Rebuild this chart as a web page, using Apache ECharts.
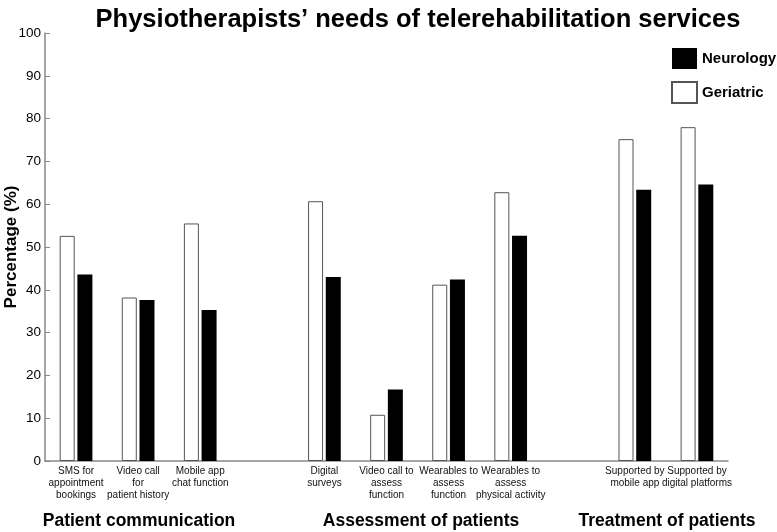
<!DOCTYPE html>
<html>
<head>
<meta charset="utf-8">
<script src="https://cdn.jsdelivr.net/npm/echarts@6/dist/echarts.min.js"></script>
<style>
  html, body { margin: 0; padding: 0; background: #fff; }
  #main { width: 777px; height: 532px; }
</style>
</head>
<body>
<div id="main"></div>
<script>
// categories, blank slots separate the three groups
const categories = [
  'SMS for\nappointment\nbookings', 'Video call\nfor\npatient history', 'Mobile app\nchat function', '',
  'Digital\nsurveys', 'Video call to\nassess\nfunction', 'Wearables to\nassess\nfunction', 'Wearables to\nassess\nphysical activity', '',
  'Supported by\nmobile app', 'Supported by\ndigital platforms'
];
const geriatric = [52.6, 38.2, 55.5, null, 60.7, 10.8, 41.2, 62.8, null, 75.2, 78.0];
const neurology = [43.6, 37.6, 35.3, null, 43.0, 16.7, 42.4, 52.6, null, 63.4, 64.6];
const groupNames = ['Patient communication', 'Assessment of patients', 'Treatment of patients'];
const yTicks = [0, 10, 20, 30, 40, 50, 60, 70, 80, 90, 100];

const chart = echarts.init(document.getElementById('main'), null, { renderer: 'canvas' });

const font = 'Liberation Sans, Arial, sans-serif';

// group captions under the axis (x = centre of each group)
const groupX = [139, 421, 667];
const groupText = groupNames.map((name, i) => ({
  type: 'text',
  x: groupX[i],
  y: 521,
  style: {
    text: name,
    font: 'bold 17.5px ' + font,
    fill: '#000',
    align: 'center',
    verticalAlign: 'middle'
  }
}));

chart.setOption({
  backgroundColor: '#fff',
  animation: false,
  textStyle: { fontFamily: font },
  title: {
    text: 'Physiotherapists\u2019 needs of telerehabilitation services',
    left: 413,
    textAlign: 'center',
    top: 2,
    textStyle: { fontSize: 25.5, fontWeight: 'bold', color: '#000', fontFamily: font }
  },
  legend: {
    data: ['Neurology', 'Geriatric'],
    orient: 'vertical',
    left: 666,
    top: 43,
    icon: 'rect',
    itemWidth: 25,
    itemHeight: 21,
    itemGap: 12,
    textStyle: { fontSize: 15, fontWeight: 'bold', color: '#000', fontFamily: font }
  },
  grid: { left: 45, right: 49, top: 33, bottom: 71, containLabel: false, outerBoundsMode: 'none' },
  xAxis: {
    type: 'category',
    data: categories,
    axisLine: { lineStyle: { color: '#888', width: 1.5 } },
    axisTick: { show: false },
    axisLabel: {
      interval: 0,
      fontSize: 10,
      lineHeight: 12,
      color: '#111',
      margin: 4,
      hideOverlap: false
    }
  },
  yAxis: {
    type: 'value',
    min: yTicks[0],
    max: yTicks[yTicks.length - 1],
    interval: 10,
    name: 'Percentage (%)',
    nameLocation: 'middle',
    nameGap: 25,
    nameMoveOverlap: false,
    nameTextStyle: { fontSize: 17, fontWeight: 'bold', color: '#000' },
    axisLine: { show: true, lineStyle: { color: '#888', width: 1.5 } },
    axisTick: { show: true, inside: true, length: 5, lineStyle: { color: '#888' } },
    axisLabel: { fontSize: 13.5, color: '#000', margin: 4 },
    splitLine: { show: false }
  },
  series: [
    {
      name: 'Geriatric',
      type: 'bar',
      data: geriatric,
      barWidth: 15,
      barGap: '18%',
      itemStyle: { color: '#fff', borderColor: '#555', borderWidth: 1 }
    },
    {
      name: 'Neurology',
      type: 'bar',
      data: neurology,
      barWidth: 15,
      itemStyle: { color: '#000' }
    }
  ],
  graphic: groupText
});
</script>
</body>
</html>
